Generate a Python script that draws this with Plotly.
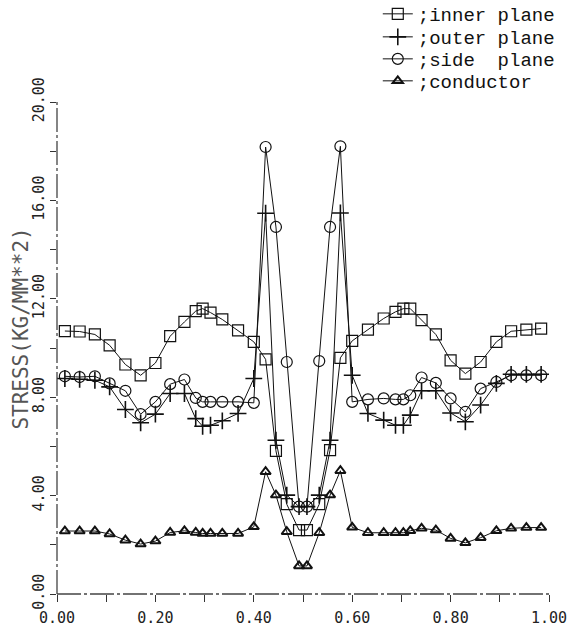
import plotly.graph_objects as go

# ---- data ----
x_pos = [0.016, 0.046, 0.077, 0.107, 0.139, 0.170, 0.200, 0.230, 0.259, 0.282,
         0.296, 0.312, 0.336, 0.368, 0.400, 0.424, 0.445, 0.467, 0.492,
         0.508, 0.533, 0.555, 0.576, 0.600, 0.632, 0.664, 0.688, 0.704, 0.718,
         0.741, 0.770, 0.800, 0.830, 0.861, 0.893, 0.923, 0.954, 0.984]

inner_plane = [10.69, 10.67, 10.55, 10.11, 9.33, 8.89, 9.39, 10.48, 11.06, 11.50,
               11.60, 11.44, 11.16, 10.72, 10.25, 9.54, 5.82, 3.65, 2.60,
               2.60, 3.65, 5.85, 9.60, 10.29, 10.75, 11.20, 11.47, 11.60, 11.60,
               11.13, 10.55, 9.50, 8.96, 9.43, 10.25, 10.68, 10.75, 10.79]

outer_plane = [8.76, 8.73, 8.69, 8.42, 7.50, 6.96, 7.31, 8.15, 8.15, 7.13,
               6.82, 6.86, 7.04, 7.34, 8.76, 15.48, 6.25, 4.02, 3.55,
               3.55, 4.02, 6.25, 15.49, 8.89, 7.34, 7.07, 6.86, 6.86, 7.27,
               8.26, 8.26, 7.36, 7.00, 7.68, 8.56, 8.93, 8.93, 8.93]

side_plane = [8.85, 8.82, 8.85, 8.56, 8.26, 7.31, 7.81, 8.53, 8.72, 7.97,
              7.81, 7.81, 7.81, 7.81, 7.77, 18.17, 14.92, 9.43, 3.55,
              3.55, 9.47, 14.92, 18.20, 7.81, 7.91, 7.95, 7.91, 7.91, 8.08,
              8.80, 8.58, 7.95, 7.40, 8.35, 8.62, 8.89, 8.89, 8.89]

conductor = [2.56, 2.56, 2.56, 2.44, 2.19, 2.03, 2.15, 2.50, 2.57, 2.50,
             2.46, 2.46, 2.46, 2.46, 2.73, 4.97, 4.02, 2.53, 1.14,
             1.14, 2.49, 4.02, 5.01, 2.71, 2.49, 2.49, 2.49, 2.49, 2.57,
             2.67, 2.60, 2.26, 2.08, 2.29, 2.57, 2.67, 2.70, 2.70]

series_names = [";inner plane", ";outer plane", ";side  plane", ";conductor"]

x_tick_vals = [0.0, 0.1, 0.2, 0.3, 0.4, 0.5, 0.6, 0.7, 0.8, 0.9, 1.0]
x_tick_text = ["0.00", "", "0.20", "", "0.40", "", "0.60", "", "0.80", "", "1.00"]
y_tick_vals = [0, 2, 4, 6, 8, 10, 12, 14, 16, 18, 20]
y_tick_text = ["0.00", "", "4.00", "", "8.00", "", "12.00", "", "16.00", "", "20.00"]

y_title = "STRESS(KG/MM**2)"

# ---- styling ----
INK = "#111111"
symbols = ["square-open", "cross-thin-open", "circle-open", "triangle-up-open"]
sizes = [11, 12, 11, 9]
mwidths = [1.2, 1.6, 1.2, 2.0]
legend_ids = ["legend", "legend2", "legend3", "legend4"]
legend_y = [1.1789, 1.1321, 1.0874, 1.0427]

fig = go.Figure()
for vals, name, sym, sz, mw, lid in zip(
        [inner_plane, outer_plane, side_plane, conductor],
        series_names, symbols, sizes, mwidths, legend_ids):
    fig.add_trace(go.Scatter(
        x=x_pos, y=vals, name=name, mode="lines+markers",
        line=dict(color=INK, width=1),
        marker=dict(symbol=sym, size=sz, color=INK,
                    line=dict(color=INK, width=mw)),
        legend=lid, showlegend=True,
    ))

legend_font = dict(family="Liberation Mono", size=19, color=INK)
layout_legends = {}
for lid, ly in zip(legend_ids, legend_y):
    layout_legends[lid] = dict(
        x=0.652, y=ly, xanchor="left", yanchor="middle",
        bgcolor="rgba(0,0,0,0)", borderwidth=0, font=legend_font,
        itemwidth=30, tracegroupgap=0,
    )

tick_font = dict(family="DejaVu Sans Mono", size=15, color="#222222")

fig.update_layout(
    width=577, height=633,
    margin=dict(l=57, r=28, t=102, b=39, pad=0, autoexpand=False),
    paper_bgcolor="white", plot_bgcolor="white",
    showlegend=True,
    xaxis=dict(
        range=[0, 1], tickmode="array", tickvals=x_tick_vals, ticktext=x_tick_text,
        ticks="outside", ticklen=7, tickwidth=1, tickcolor="#333333",
        showgrid=False, zeroline=False, showline=False, tickfont=tick_font,
        ticklabelstandoff=3,
    ),
    yaxis=dict(
        range=[0, 20], tickmode="array", tickvals=y_tick_vals, ticktext=y_tick_text,
        ticks="outside", ticklen=6, tickwidth=1, tickcolor="#333333",
        showgrid=False, zeroline=False, showline=False, tickfont=tick_font,
        tickangle=-90,
    ),
    shapes=[
        dict(type="line", xref="paper", yref="paper", x0=0, x1=0, y0=0, y1=1,
             line=dict(color="#444444", width=1.3, dash="24px,3px,3px,3px")),
        dict(type="line", xref="paper", yref="paper", x0=0, x1=1, y0=0, y1=0,
             line=dict(color="#444444", width=1.3, dash="24px,3px,3px,3px")),
    ],
    annotations=[
        dict(text=y_title, textangle=-90, xref="paper", yref="paper",
             x=-0.0726, y=0.54, xanchor="center", yanchor="middle", showarrow=False,
             font=dict(family="DejaVu Sans Mono", size=21, color="#555555")),
    ],
    **layout_legends,
)

fig.write_html("out.html")
